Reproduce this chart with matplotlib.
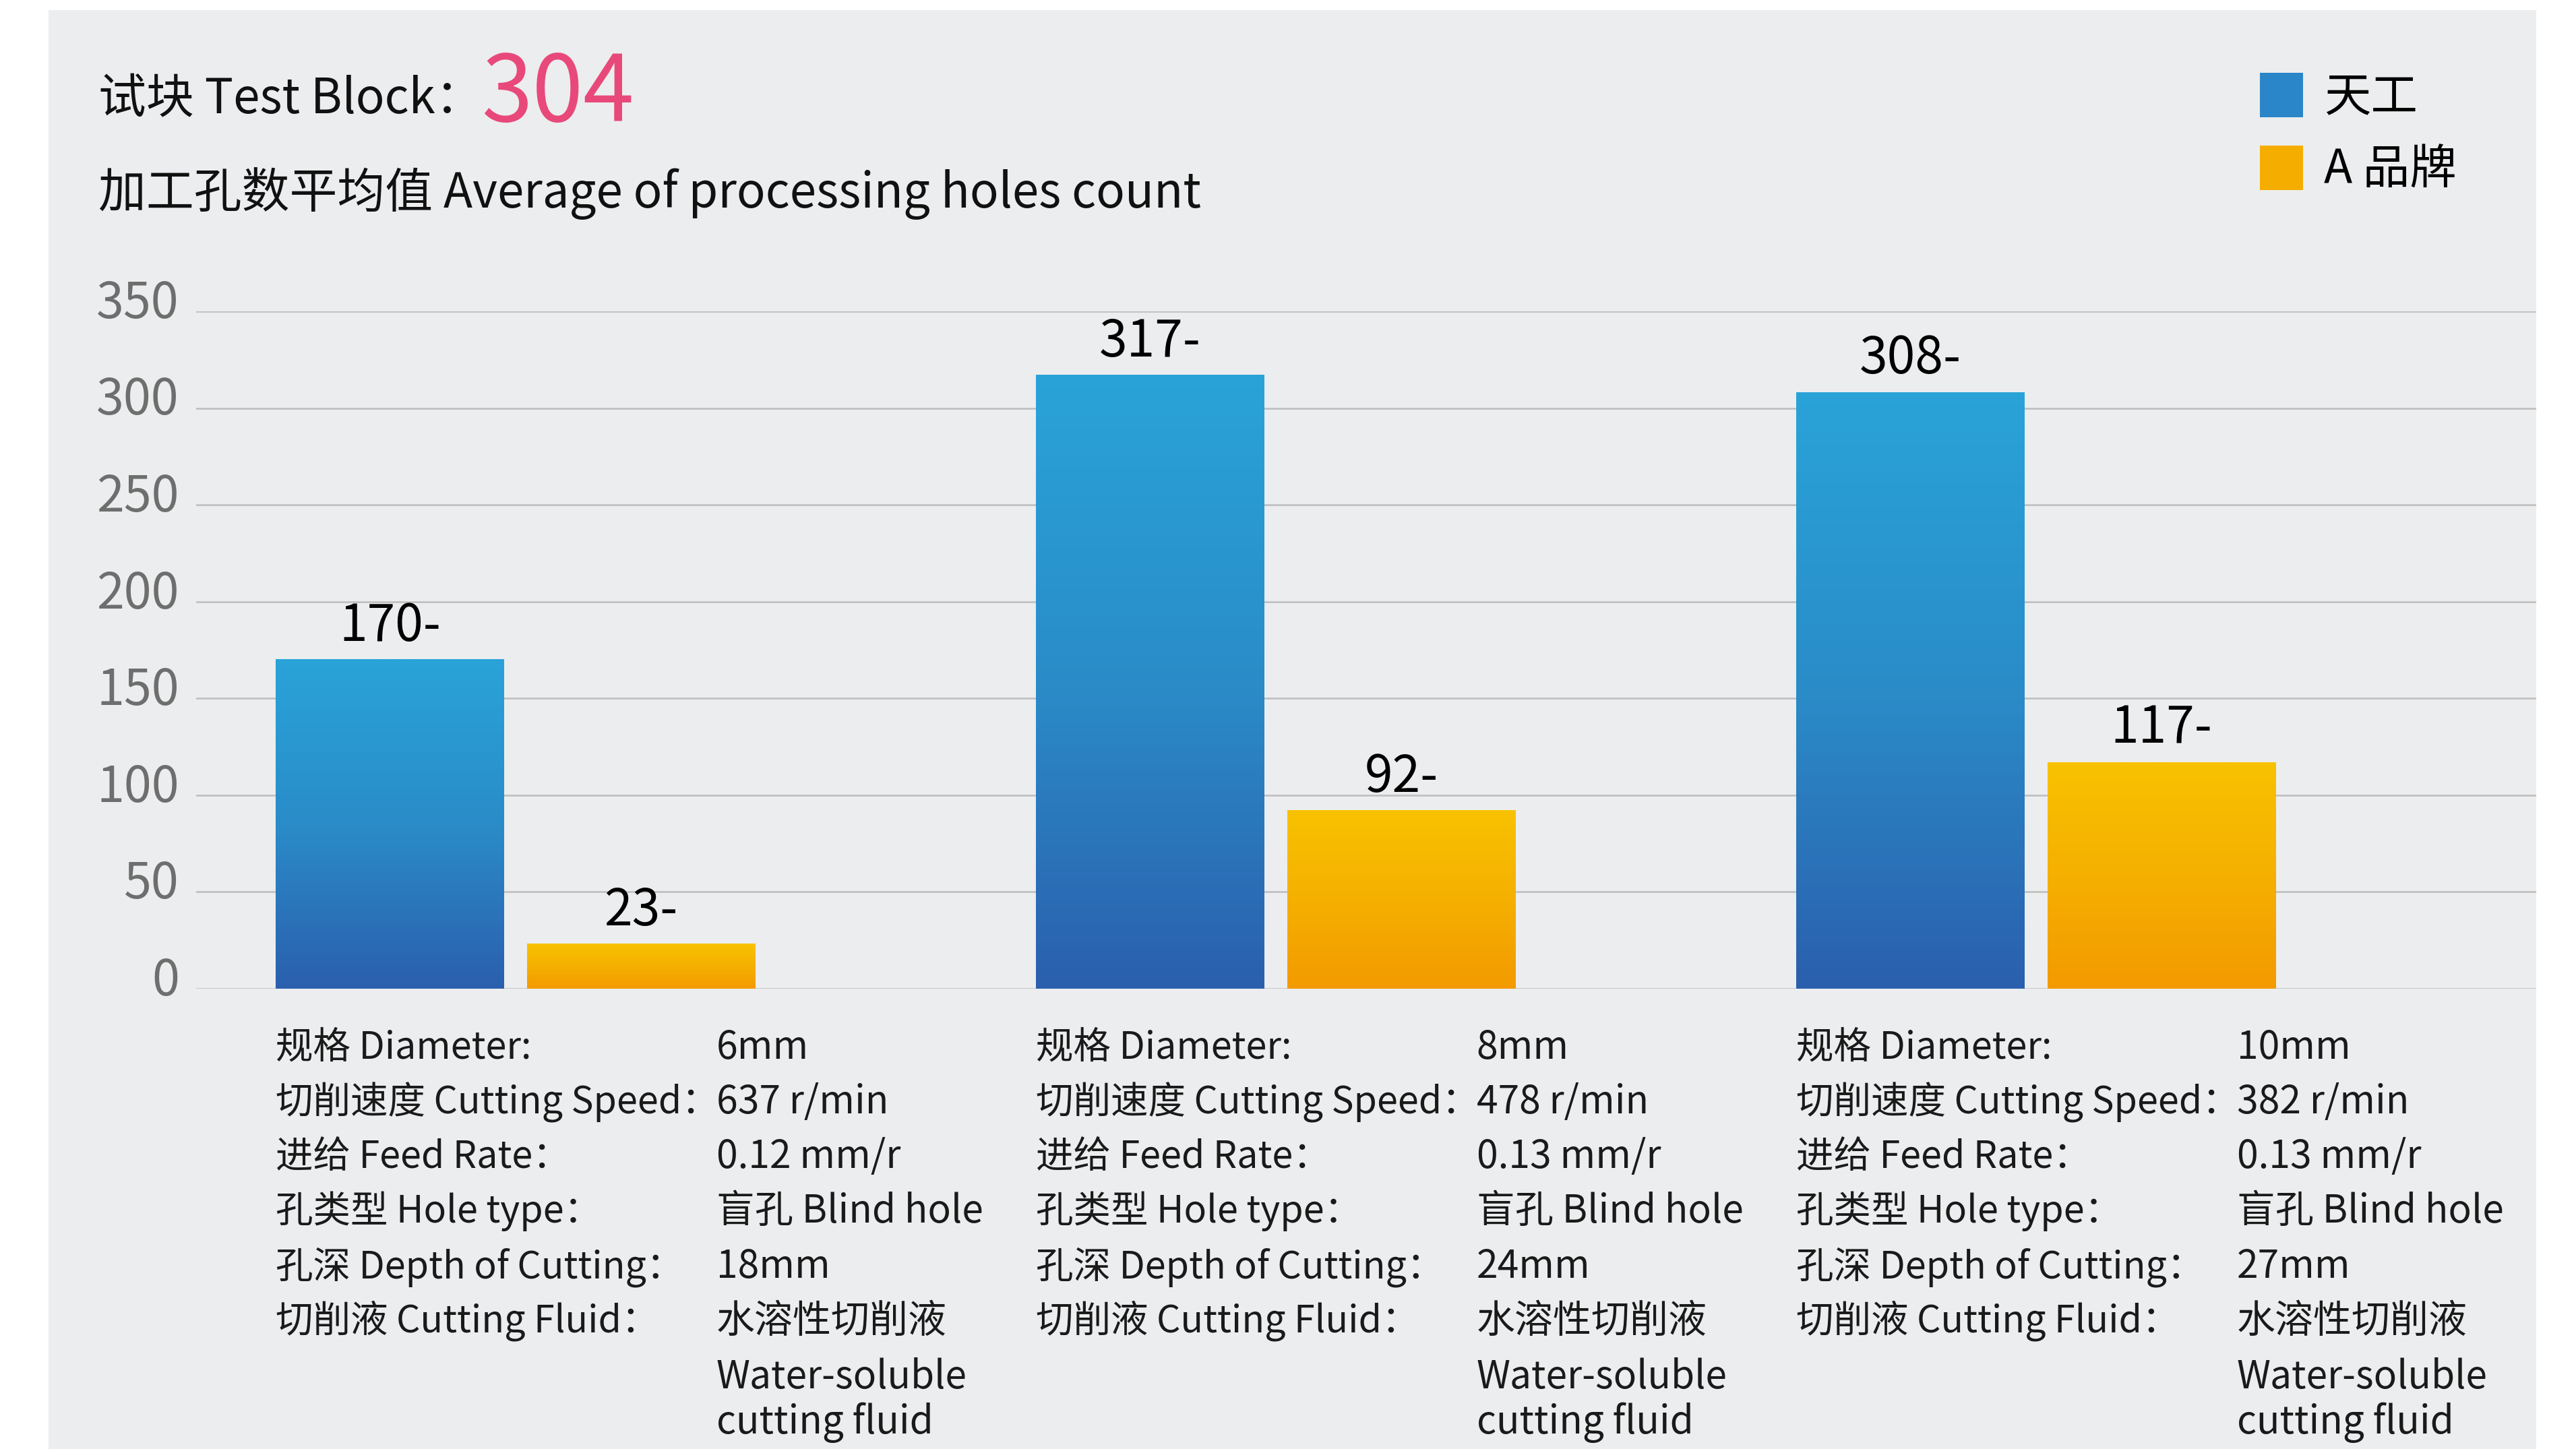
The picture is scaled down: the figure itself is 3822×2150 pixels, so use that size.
import numpy as np
import matplotlib
matplotlib.use('Agg')
import matplotlib.pyplot as plt
import matplotlib.transforms as mtransforms
from matplotlib.colors import LinearSegmentedColormap
from matplotlib.patches import Rectangle, Patch

plt.rcParams['font.family'] = ['Noto Sans CJK SC', 'DejaVu Sans']

# data
series = ['天工', 'A 品牌']
tiangong = [170, 317, 308]
brand_a = [23, 92, 117]
yticks = [0, 50, 100, 150, 200, 250, 300, 350]

title = '试块 Test Block：'
block_no = '304'
subtitle = '加工孔数平均值 Average of processing holes count'

param_labels = ['规格 Diameter:', '切削速度 Cutting Speed：', '进给 Feed Rate：',
                '孔类型 Hole type：', '孔深 Depth of Cutting：', '切削液 Cutting Fluid：']
diameters = ['6mm', '8mm', '10mm']
speeds = ['637 r/min', '478 r/min', '382 r/min']
feeds = ['0.12 mm/r', '0.13 mm/r', '0.13 mm/r']
hole_types = ['盲孔 Blind hole', '盲孔 Blind hole', '盲孔 Blind hole']
depths = ['18mm', '24mm', '27mm']
fluids = ['水溶性切削液', '水溶性切削液', '水溶性切削液']
fluids_en = ['Water-soluble', 'cutting fluid']

W, H = 3822, 2150
fig = plt.figure(figsize=(W / 100, H / 100), dpi=100)
fig.patch.set_facecolor('white')
fig.patches.append(Rectangle((72 / W, 0), (3763 - 72) / W, (H - 15) / H,
                             transform=fig.transFigure, facecolor='#ecedee',
                             edgecolor='none', zorder=-10))

ax = fig.add_axes([291 / W, (H - 1467) / H, (3763 - 291) / W, 1005 / H])
ax.set_facecolor('none')

blue_cmap = LinearSegmentedColormap.from_list('blue', ['#2b5fae', '#2a8cc8', '#29a3d9'])
orange_cmap = LinearSegmentedColormap.from_list('orange', ['#f39a00', '#f5b000', '#f8c200'])

x = np.arange(len(tiangong))
width = 0.30
off = 0.165
b1 = ax.bar(x - off, tiangong, width, facecolor='none', edgecolor='none', zorder=2)
b2 = ax.bar(x + off, brand_a, width, facecolor='none', edgecolor='none', zorder=2)

# vertical gradient inside every bar
grad = np.linspace(0, 1, 256).reshape(-1, 1)
for bars, cm in [(b1, blue_cmap), (b2, orange_cmap)]:
    for p in bars.patches:
        x0, y0 = p.get_xy()
        ax.imshow(grad, extent=[x0, x0 + p.get_width(), y0, y0 + p.get_height()],
                  origin='lower', aspect='auto', cmap=cm, zorder=2)

ax.bar_label(b1, fmt='%d-', padding=8, fontsize=54, color='black')
ax.bar_label(b2, fmt='%d-', padding=8, fontsize=54, color='black')

ax.set_xlim(-0.42, 2.658)
ax.set_ylim(0, 350)
ax.set_yticks(yticks)
ax.set_xticks([])
ax.tick_params(axis='y', length=0, pad=18, labelsize=53, labelcolor='#6e6e6e')
ax.yaxis.grid(True, color='#bdbdbd', linewidth=1.8)
ax.set_axisbelow(True)
for s in ax.spines.values():
    s.set_visible(False)
shift = mtransforms.ScaledTranslation(0, 14 / 72, fig.dpi_scale_trans)
for lab in ax.get_yticklabels():
    lab.set_transform(lab.get_transform() + shift)

# titles
fig.text(146 / W, 1 - 168 / H, title, fontsize=51, color='#111111', va='baseline')
fig.text(714 / W, 1 - 180 / H, block_no, fontsize=98, color='#e8497a', va='baseline',
         fontweight='medium')
fig.text(146 / W, 1 - 308 / H, subtitle, fontsize=51, color='#111111', va='baseline')

# legend
handles = [Patch(facecolor='#2a86c8'), Patch(facecolor='#f5ae00')]
fig.legend(handles, series, loc='upper left', bbox_to_anchor=(3325 / W, 1 - 80 / H),
           frameon=False, fontsize=50, handlelength=0.92, handleheight=1.08,
           handletextpad=0.45, labelspacing=0.52, borderaxespad=0)

# parameter table under each group
trans = mtransforms.blended_transform_factory(ax.transData, fig.transFigure)
rows = [1571, 1652, 1733, 1814, 1896, 1977]
en_rows = [2060, 2127]
for i in range(len(x)):
    xl = b1.patches[i].get_x()
    xv = xl + 0.579
    vals = [diameters[i], speeds[i], feeds[i], hole_types[i], depths[i], fluids[i]]
    for lab, val, yb in zip(param_labels, vals, rows):
        ax.text(xl, 1 - yb / H, lab, transform=trans, fontsize=40, color='#1a1a1a', va='baseline')
        ax.text(xv, 1 - yb / H, val, transform=trans, fontsize=41, color='#1a1a1a', va='baseline')
    for t, yb in zip(fluids_en, en_rows):
        ax.text(xv, 1 - yb / H, t, transform=trans, fontsize=41, color='#1a1a1a', va='baseline')

fig.savefig('out.png', dpi=100, facecolor='white')
